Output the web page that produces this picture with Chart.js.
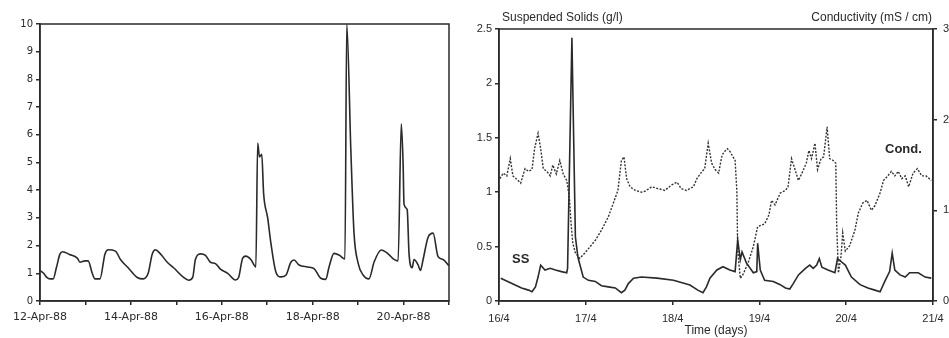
<!DOCTYPE html>
<html lang="en">
<head>
<meta charset="UTF-8">
<title>Suspended solids and conductivity</title>
<script src="https://cdn.jsdelivr.net/npm/chart.js@4.4.1/dist/chart.umd.min.js"></script>
<style>
  html, body { margin: 0; padding: 0; background: #fff; overflow: hidden; width: 949px; height: 338px; }
  #left { position: absolute; left: 0; top: 0; }
  #right { position: absolute; left: 460px; top: 0; }
</style>
</head>
<body>
<canvas id="left" width="460" height="338"></canvas>
<canvas id="right" width="500" height="338"></canvas>

<script>
// ---- left panel: daily cycle, 12-21 April 1988 ----
var leftDays = [
  12.00, 12.08, 12.15, 12.22, 12.29, 12.36, 12.44, 12.50, 12.65, 12.82,
  12.88, 12.99, 13.06, 13.15, 13.21, 13.32, 13.43, 13.50, 13.66, 13.77,
  13.94, 14.14, 14.27, 14.38, 14.47, 14.54, 14.65, 14.80, 14.94, 15.16,
  15.27, 15.36, 15.42, 15.53, 15.64, 15.75, 15.86, 15.97, 16.13, 16.30,
  16.37, 16.46, 16.53, 16.64, 16.75, 16.79, 16.83, 16.88, 16.92, 17.01,
  17.08, 17.19, 17.30, 17.41, 17.52, 17.59, 17.70, 17.89, 18.03, 18.18,
  18.29, 18.36, 18.47, 18.58, 18.71, 18.75, 18.84, 18.91, 19.00, 19.11,
  19.24, 19.35, 19.51, 19.66, 19.79, 19.88, 19.95, 19.99, 20.01, 20.08,
  20.12, 20.19, 20.23, 20.32, 20.37, 20.43, 20.54, 20.65, 20.76, 20.87,
  21.00
];
var leftValues = [
  1.10, 1.00, 0.85, 0.80, 0.80, 1.20, 1.70, 1.78, 1.68, 1.55,
  1.40, 1.45, 1.45, 1.00, 0.80, 0.80, 1.70, 1.85, 1.80, 1.50,
  1.20, 0.85, 0.80, 1.00, 1.70, 1.85, 1.70, 1.40, 1.20, 0.85,
  0.75, 0.85, 1.50, 1.70, 1.65, 1.40, 1.35, 1.15, 1.00, 0.76,
  0.85, 1.55, 1.62, 1.50, 1.23, 5.70, 5.20, 5.30, 3.90, 3.00,
  2.10, 1.05, 0.87, 0.93, 1.40, 1.48, 1.30, 1.23, 1.17, 0.82,
  0.78, 1.23, 1.72, 1.66, 1.52, 10.0, 5.45, 2.45, 1.37, 0.94,
  0.80, 1.40, 1.84, 1.70, 1.50, 1.45, 6.40, 4.97, 3.50, 3.30,
  1.72, 1.20, 1.50, 1.30, 1.10, 1.50, 2.30, 2.45, 1.60, 1.50,
  1.27
];
var leftTickSuffix = '-Apr-88';

// ---- right panel: suspended solids (g/l) and conductivity (mS/cm) ----
var ssDays = [
  16.02, 16.10, 16.18, 16.26, 16.34, 16.38, 16.42, 16.45, 16.48, 16.53,
  16.59, 16.65, 16.72, 16.78, 16.79, 16.84, 16.88, 16.91, 16.97, 17.03,
  17.11, 17.18, 17.26, 17.34, 17.41, 17.45, 17.49, 17.55, 17.64, 17.82,
  18.01, 18.20, 18.29, 18.35, 18.39, 18.43, 18.51, 18.58, 18.66, 18.72,
  18.75, 18.78, 18.80, 18.85, 18.93, 18.97, 18.98, 19.01, 19.06, 19.16,
  19.24, 19.30, 19.35, 19.39, 19.45, 19.53, 19.58, 19.62, 19.66, 19.69,
  19.72, 19.79, 19.87, 19.90, 19.93, 19.99, 20.06, 20.16, 20.25, 20.33,
  20.39, 20.45, 20.50, 20.53, 20.56, 20.62, 20.68, 20.73, 20.83, 20.91,
  20.98
];
var ssValues = [
  0.21, 0.18, 0.15, 0.12, 0.10, 0.085, 0.13, 0.22, 0.33, 0.285,
  0.30, 0.285, 0.27, 0.26, 0.30, 2.42, 0.59, 0.40, 0.22, 0.19,
  0.18, 0.14, 0.13, 0.12, 0.076, 0.10, 0.16, 0.21, 0.22, 0.21,
  0.19, 0.147, 0.10, 0.076, 0.13, 0.21, 0.285, 0.315, 0.285, 0.27,
  0.56, 0.38, 0.45, 0.35, 0.26, 0.27, 0.53, 0.285, 0.19, 0.18,
  0.15, 0.12, 0.11, 0.16, 0.24, 0.30, 0.33, 0.30, 0.33, 0.39,
  0.31, 0.285, 0.26, 0.39, 0.37, 0.33, 0.22, 0.15, 0.12, 0.10,
  0.085, 0.19, 0.27, 0.44, 0.285, 0.24, 0.22, 0.26, 0.26, 0.22,
  0.21
];
var condDays = [
  16.01, 16.05, 16.09, 16.13, 16.16, 16.22, 16.25, 16.30, 16.34, 16.38,
  16.41, 16.45, 16.48, 16.51, 16.55, 16.59, 16.62, 16.66, 16.70, 16.74,
  16.78, 16.81, 16.83, 16.85, 16.88, 16.93, 16.99, 17.05, 17.11, 17.18,
  17.26, 17.31, 17.37, 17.41, 17.44, 17.47, 17.51, 17.57, 17.64, 17.68,
  17.76, 17.83, 17.91, 17.99, 18.05, 18.10, 18.16, 18.24, 18.28, 18.34,
  18.37, 18.41, 18.45, 18.49, 18.53, 18.57, 18.60, 18.63, 18.66, 18.72,
  18.74, 18.75, 18.78, 18.81, 18.87, 18.93, 18.98, 19.03, 19.06, 19.11,
  19.14, 19.18, 19.24, 19.30, 19.33, 19.37, 19.40, 19.45, 19.49, 19.54,
  19.57, 19.60, 19.64, 19.67, 19.71, 19.74, 19.78, 19.81, 19.85, 19.88,
  19.89, 19.91, 19.94, 19.96, 19.99, 20.04, 20.10, 20.14, 20.19, 20.24,
  20.29, 20.33, 20.39, 20.43, 20.48, 20.52, 20.56, 20.60, 20.64, 20.68,
  20.72, 20.77, 20.82, 20.87, 20.92, 20.98
];
var condValues = [
  1.35, 1.41, 1.38, 1.57, 1.38, 1.33, 1.30, 1.46, 1.43, 1.45,
  1.68, 1.85, 1.68, 1.46, 1.43, 1.38, 1.50, 1.40, 1.55, 1.40,
  1.33, 1.15, 0.86, 0.64, 0.53, 0.47, 0.53, 0.60, 0.67, 0.78,
  0.93, 1.06, 1.22, 1.55, 1.59, 1.35, 1.26, 1.22, 1.20, 1.21,
  1.26, 1.24, 1.22, 1.28, 1.31, 1.24, 1.22, 1.26, 1.35, 1.43,
  1.46, 1.74, 1.52, 1.45, 1.41, 1.61, 1.65, 1.68, 1.65, 1.55,
  1.22, 0.56, 0.25, 0.29, 0.42, 0.60, 0.82, 0.84, 0.85, 0.95,
  1.11, 1.06, 1.19, 1.22, 1.26, 1.57, 1.48, 1.33, 1.41, 1.52,
  1.66, 1.57, 1.74, 1.45, 1.57, 1.59, 1.92, 1.57, 1.55, 1.52,
  0.86, 0.31, 0.49, 0.75, 0.55, 0.61, 0.78, 0.97, 1.08, 1.11,
  1.00, 1.05, 1.19, 1.33, 1.38, 1.43, 1.38, 1.43, 1.35, 1.38,
  1.26, 1.41, 1.46, 1.38, 1.38, 1.33
];
var rightTickSuffix = '/4';

var ink = '#2a2a2a';
var sans = '"Liberation Sans", Arial, sans-serif';

function pts(xs, ys) {
  return xs.map(function (x, i) { return { x: x, y: ys[i] }; });
}
function fixWidth(w) { return function (s) { s.width = w; }; }
function fixHeight(h) { return function (s) { s.height = h; }; }
function plain(v) { return String(+v.toFixed(2)); }

// box round the plot area (top and right edges)
var frame = {
  id: 'frame',
  afterDatasetsDraw: function (chart) {
    var a = chart.chartArea, c = chart.ctx;
    c.save();
    c.strokeStyle = ink;
    c.lineWidth = 1.5;
    c.strokeRect(a.left, a.top, a.right - a.left, a.bottom - a.top);
    c.restore();
  }
};

var axisGrid = { drawOnChartArea: false, tickLength: 4, color: ink, lineWidth: 1.5 };
var axisBorder = { color: ink, width: 1.5 };

new Chart(document.getElementById('left'), {
  type: 'line',
  data: {
    datasets: [{
      data: pts(leftDays, leftValues),
      borderColor: ink,
      borderWidth: 1.6,
      pointRadius: 0,
      cubicInterpolationMode: 'monotone'
    }]
  },
  options: {
    responsive: false,
    animation: false,
    layout: { padding: { top: 24, right: 11, left: 0, bottom: 0 } },
    plugins: { legend: { display: false }, tooltip: { enabled: false } },
    scales: {
      x: {
        type: 'linear', min: 12, max: 21,
        afterFit: fixHeight(37),
        grid: axisGrid, border: axisBorder,
        ticks: {
          stepSize: 1, autoSkip: false, maxRotation: 0, padding: 6, color: ink,
          font: { family: '"DejaVu Sans", sans-serif', size: 11 },
          callback: function (v) { return v % 2 === 0 ? v + leftTickSuffix : ''; }
        }
      },
      y: {
        min: 0, max: 10,
        afterFit: fixWidth(40),
        grid: axisGrid, border: axisBorder,
        ticks: {
          stepSize: 1, padding: 3, color: ink,
          font: { family: '"DejaVu Sans", sans-serif', size: 10 }
        }
      }
    }
  },
  plugins: [frame]
});

// free text on the right panel
var notes = {
  id: 'notes',
  afterDraw: function (chart) {
    var a = chart.chartArea, c = chart.ctx;
    c.save();
    c.fillStyle = ink;
    c.textBaseline = 'middle';
    c.font = '12px ' + sans;
    c.textAlign = 'left';
    c.fillText('Suspended Solids (g/l)', a.left + 3, 18);
    c.textAlign = 'right';
    c.fillText('Conductivity (mS / cm)', a.right - 1, 18);
    c.font = 'bold 13px ' + sans;
    c.textAlign = 'left';
    c.fillText('SS', a.left + 13, 259);
    c.fillText('Cond.', a.left + 386, 149);
    c.restore();
  }
};

new Chart(document.getElementById('right'), {
  type: 'line',
  data: {
    datasets: [{
      label: 'SS',
      data: pts(ssDays, ssValues),
      borderColor: ink,
      borderWidth: 1.6,
      pointRadius: 0,
      yAxisID: 'y'
    }, {
      label: 'Cond.',
      data: pts(condDays, condValues),
      borderColor: '#333',
      borderWidth: 1.4,
      borderDash: [2, 1.5],
      pointRadius: 0,
      yAxisID: 'y2'
    }]
  },
  options: {
    responsive: false,
    animation: false,
    layout: { padding: { top: 29, right: 0, left: 0, bottom: 0 } },
    plugins: { legend: { display: false }, tooltip: { enabled: false } },
    scales: {
      x: {
        type: 'linear', min: 16, max: 21,
        afterFit: fixHeight(37),
        grid: axisGrid, border: axisBorder,
        title: {
          display: true, text: 'Time (days)', color: ink,
          font: { family: sans, size: 12 }, padding: { top: 0, bottom: 0 }
        },
        ticks: {
          stepSize: 1, autoSkip: false, maxRotation: 0, padding: 7, color: ink,
          font: { family: sans, size: 11 },
          callback: function (v) { return v + rightTickSuffix; }
        }
      },
      y: {
        position: 'left', min: 0, max: 2.5,
        afterFit: fixWidth(39),
        grid: axisGrid, border: axisBorder,
        ticks: { stepSize: 0.5, padding: 3, color: ink, font: { family: sans, size: 11 }, callback: plain }
      },
      y2: {
        position: 'right', min: 0, max: 3,
        afterFit: fixWidth(27),
        grid: axisGrid, border: axisBorder,
        ticks: { stepSize: 1, padding: 6, color: ink, font: { family: sans, size: 11 }, callback: plain }
      }
    }
  },
  plugins: [frame, notes]
});
</script>
</body>
</html>
